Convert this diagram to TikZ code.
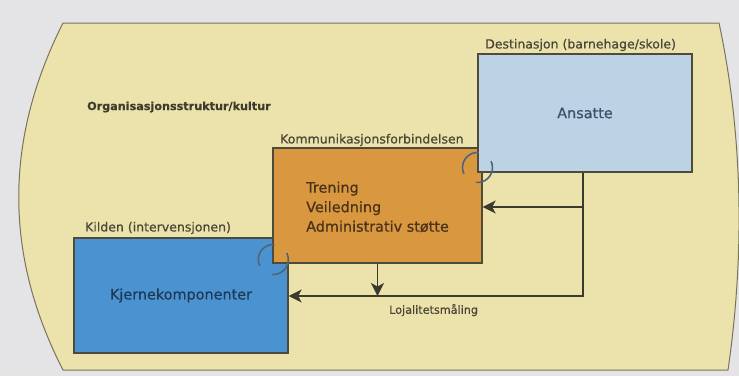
\documentclass[tikz,border=0pt]{standalone}
\usepackage{fontspec}
\setmainfont[FakeBold=0.6]{DejaVu Sans}
\usetikzlibrary{arrows.meta}
\definecolor{pagebg}{HTML}{E4E4E6}
\definecolor{shapefill}{HTML}{ECE3AC}
\definecolor{shapeline}{HTML}{7A735A}
\definecolor{ansfill}{HTML}{BCD3E6}
\definecolor{orgfill}{HTML}{D9973F}
\definecolor{kjfill}{HTML}{4A93D0}
\definecolor{boxline}{HTML}{4D4B3C}
\definecolor{connline}{HTML}{3B3A2E}
\definecolor{labeltext}{HTML}{4A4535}
\definecolor{anstext}{HTML}{3E5068}
\definecolor{kjtext}{HTML}{1E3A58}
\definecolor{orgtext}{HTML}{4A3318}
\definecolor{ringcol}{HTML}{50657A}
\begin{document}
\begin{tikzpicture}[x=1pt,y=-1pt,
  lbl/.style={font=\fontsize{12.5}{15}\selectfont, text=labeltext, inner sep=0pt, anchor=west},
  bigtxt/.style={font=\fontsize{14.4}{19.5}\selectfont},
  box/.style={draw=boxline, line width=1.3pt, inner sep=0pt},
  conn/.style={draw=connline, line width=1.4pt, -{Stealth[length=13pt,width=13pt,inset=3.5pt]}},
  ring/.style={draw=ringcol, line width=1.6pt}]
\useasboundingbox (0,0) rectangle (739,376);
\fill[pagebg] (0,0) rectangle (739,376);
% organisation shape
\draw[draw=shapeline, line width=1pt, fill=shapefill]
  (63,23) -- (719,23) .. controls (744,140) and (744,260) .. (728,370)
  -- (63,370) .. controls (4,255) and (4,140) .. (63,23) -- cycle;
\node[font=\bfseries\fontsize{11.2}{13}\selectfont, text=labeltext!85!black, inner sep=0pt, anchor=west] (orglbl) at (87,107) {Organisasjonsstruktur/kultur};
% boxes
\node[box, fill=kjfill, minimum width=214pt, minimum height=115pt, bigtxt, text=kjtext] (kj) at (181,295.5) {Kjernekomponenter};
\node[box, fill=orgfill, minimum width=209pt, minimum height=115pt] (org) at (377.5,205.5) {};
\node[box, fill=ansfill, minimum width=214pt, minimum height=118pt, bigtxt, text=anstext] (ans) at (585,113) {Ansatte};
\node[bigtxt, text=orgtext, align=left, anchor=west, inner sep=0pt] (trn) at (306,207) {Trening\\Veiledning\\Administrativ støtte};
% labels
\node[lbl] (dest) at (485,45) {Destinasjon (barnehage/skole)};
\node[lbl] (komm) at (280,140) {Kommunikasjonsforbindelsen};
\node[lbl] (kild) at (85,228) {Kilden (intervensjonen)};
% rings at joints
\coordinate (c1) at (477.5,167.5);
\coordinate (c2) at (273.3,259.5);
\foreach \c in {c1,c2}{
  \draw[ring] ([shift={(85:15pt)}]\c) arc[start angle=85, end angle=205, radius=15pt];
  \draw[ring] ([shift={(265:15pt)}]\c) arc[start angle=265, end angle=385, radius=15pt];
}
% connectors
\coordinate (j1) at (583,296);
\coordinate (j2) at (583,207);
\draw[conn] (j1 |- ans.south) -- (j1) -- (kj.east |- j1);
\draw[conn] (j2) -- (org.east |- j2);
\draw[conn] (org.south) -- (org.south |- j1);
\node[font=\fontsize{11.2}{13}\selectfont, text=labeltext, inner sep=0pt, anchor=west] (loj) at (389,310) {Lojalitetsmåling};
\end{tikzpicture}
\end{document}
